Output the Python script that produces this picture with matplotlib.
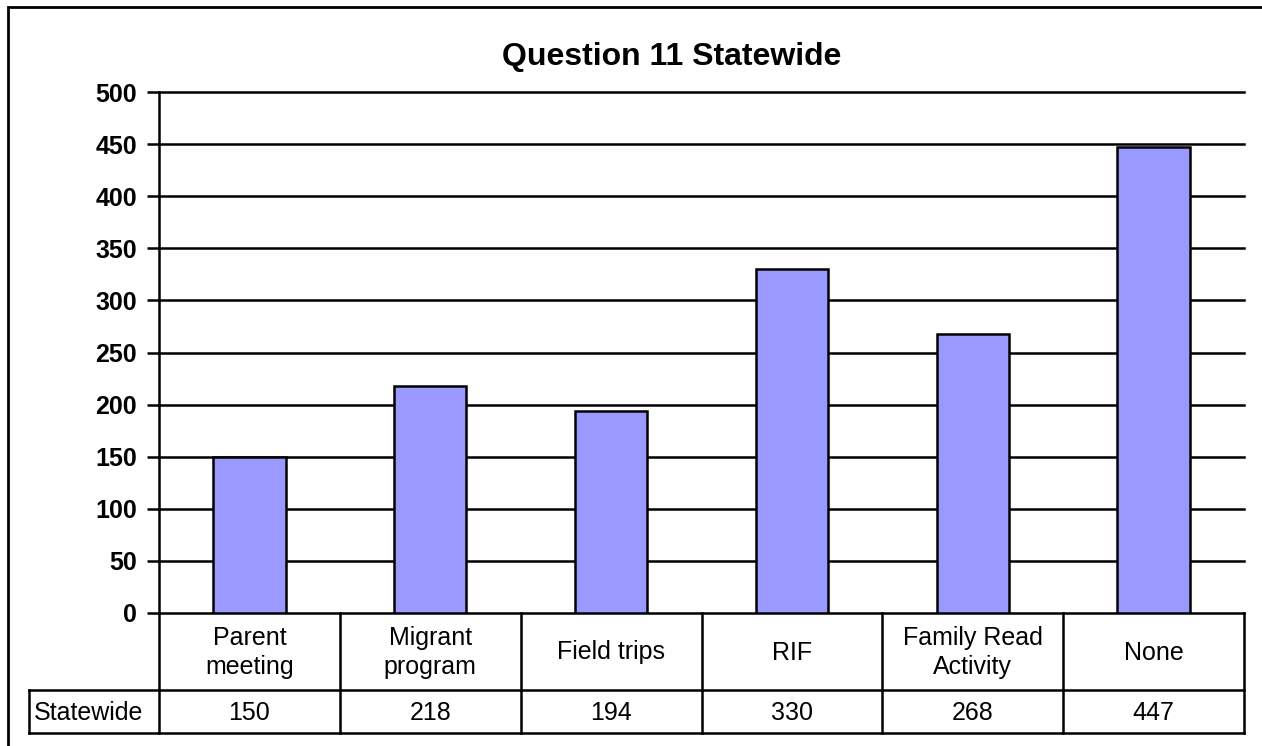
import matplotlib
matplotlib.use("Agg")
import matplotlib.pyplot as plt
from matplotlib.lines import Line2D
from matplotlib.patches import Rectangle

categories = ["Parent\nmeeting", "Migrant\nprogram", "Field trips", "RIF", "Family Read\nActivity", "None"]
values = [150, 218, 194, 330, 268, 447]
series_name = "Statewide"
yticks = [0, 50, 100, 150, 200, 250, 300, 350, 400, 450, 500]
title = "Question 11 Statewide"

W, H = 1262, 746
plt.rcParams['font.family'] = ['Liberation Sans', 'DejaVu Sans']
fig = plt.figure(figsize=(W / 100, H / 100), dpi=100)

def fx(x):
    return x / W

def fy(y):
    return 1 - y / H

L, R, T, B = 159, 1244, 92, 613
ax = fig.add_axes([fx(L), fy(B), fx(R) - fx(L), fy(T) - fy(B)])
n = len(categories)
xs = [i + 0.5 for i in range(n)]
ax.bar(xs, values, width=0.4, color="#9999FF", edgecolor="black", linewidth=1.8, zorder=3)
ax.set_xlim(0, n)
ax.set_ylim(0, 500)
ax.set_yticks(yticks)
ax.set_yticklabels([str(t) for t in yticks], fontsize=18, fontweight="bold")
for t in yticks[1:]:
    ax.axhline(t, color="black", linewidth=1.8, zorder=1, clip_on=False)
ax.tick_params(axis="y", length=9, width=1.8, pad=7)
ax.tick_params(axis="x", bottom=False, labelbottom=False)
for s in ["top", "right"]:
    ax.spines[s].set_visible(False)
ax.spines["left"].set_linewidth(1.8)
ax.spines["bottom"].set_linewidth(1.8)

fig.text(fx(672), fy(57), title, ha="center", va="center", fontsize=23, fontweight="bold")

# data table
r1, r2 = 690, 733
tl = 29
colw = (R - L) / n
lw = 1.8
def hline(x0, x1, y):
    fig.add_artist(Line2D([fx(x0), fx(x1)], [fy(y), fy(y)], color="black", lw=lw))
def vline(x, y0, y1):
    fig.add_artist(Line2D([fx(x), fx(x)], [fy(y0), fy(y1)], color="black", lw=lw))

hline(tl, R, r1)
hline(tl, R, r2)
vline(tl, r1, r2)
for i in range(n + 1):
    vline(L + i * colw, B, r2)
for i, (c, v) in enumerate(zip(categories, values)):
    cx = L + (i + 0.5) * colw
    fig.text(fx(cx), fy((B + r1) / 2 + 1), c, ha="center", va="center", fontsize=18, linespacing=1.3)
    fig.text(fx(cx), fy((r1 + r2) / 2 + 1), str(v), ha="center", va="center", fontsize=18)
fig.text(fx(tl + 5), fy((r1 + r2) / 2 + 1), series_name, ha="left", va="center", fontsize=18)

# outer chart border (clipped at right/bottom)
fig.add_artist(Rectangle((fx(8), fy(760)), fx(1270) - fx(8), fy(7) - fy(760),
                         fill=False, edgecolor="black", lw=2, transform=fig.transFigure))

fig.savefig("out.png", dpi=100)
